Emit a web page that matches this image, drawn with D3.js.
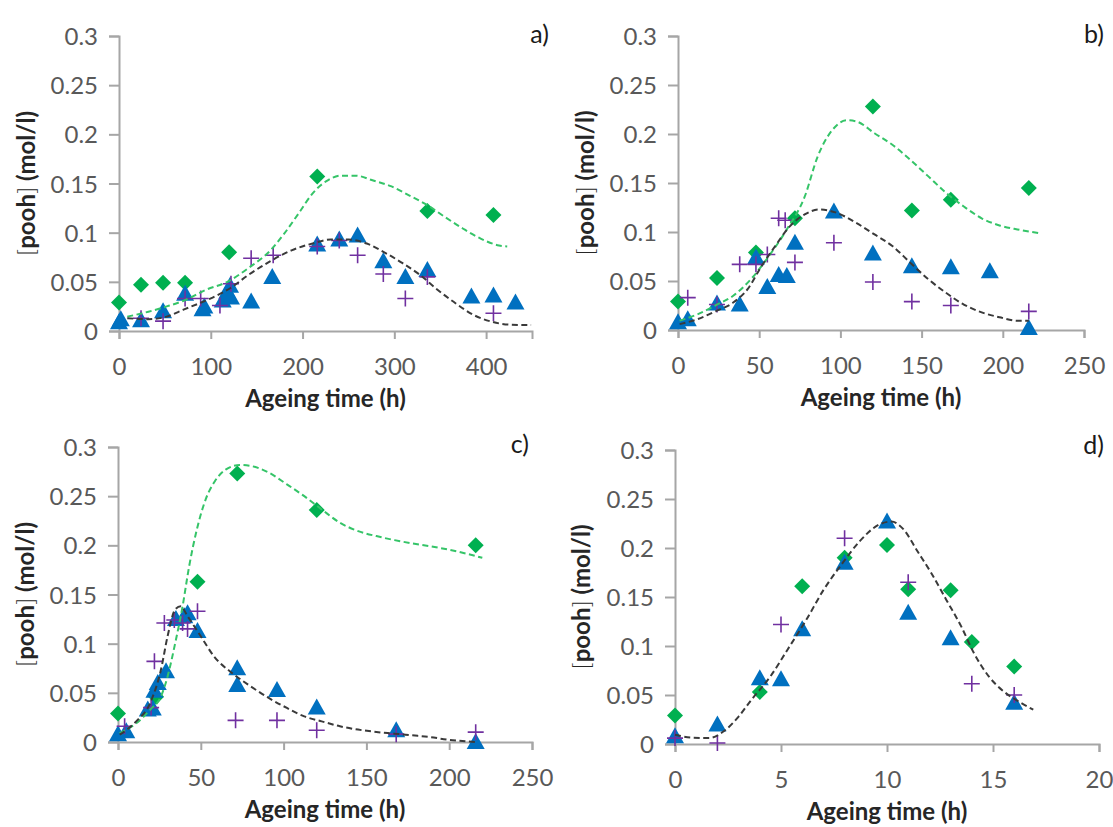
<!DOCTYPE html>
<html>
<head>
<meta charset="utf-8">
<script src="https://cdnjs.cloudflare.com/ajax/libs/d3/7.8.5/d3.min.js"></script>
<style>
  html, body { margin: 0; padding: 0; background: #ffffff; }
  svg { display: block; }
</style>
</head>
<body>
<svg id="chart" width="1113" height="827"></svg>
<script>
// ---------------- DATA ----------------
const yTicks = [0, 0.05, 0.1, 0.15, 0.2, 0.25, 0.3];
const yTickLabels = ["0", "0.05", "0.1", "0.15", "0.2", "0.25", "0.3"];
const xTicksA = [0, 100, 200, 300, 400];
const xTicksB = [0, 50, 100, 150, 200, 250];
const xTicksC = [0, 50, 100, 150, 200, 250];
const xTicksD = [0, 5, 10, 15, 20];
const panelLabels = ["a)", "b)", "c)", "d)"];
const xTitle = "Ageing time (h)";

// Panel a
const aDiamonds = [[0,0.029],[24,0.047],[48,0.049],[72,0.049],[120,0.08],[216,0.157],[336,0.122],[408,0.118]];
const aTriangles = [[0,0.009],[2,0.012],[24,0.011],[48,0.02],[72,0.038],[91,0.022],[93,0.025],[113,0.031],[118,0.04],[121,0.046],[122,0.034],[144,0.03],[167,0.055],[216,0.088],[240,0.093],[260,0.097],[288,0.071],[312,0.055],[336,0.062],[384,0.035],[408,0.036],[432,0.029]];
const aPlus = [[24,0.013],[48,0.01],[72,0.033],[89,0.033],[110,0.026],[122,0.048],[144,0.074],[168,0.077],[216,0.086],[240,0.092],[260,0.077],[288,0.058],[312,0.033],[336,0.055],[408,0.018]];
const aFitBlack = [[9,0.013],[32,0.012],[52,0.0146],[71,0.022],[87,0.028],[102,0.034],[122,0.044],[141,0.057],[165,0.071],[188,0.082],[211,0.089],[231,0.093],[250,0.093],[270,0.089],[289,0.08],[309,0.069],[328,0.057],[347,0.042],[367,0.028],[386,0.0165],[406,0.0095],[425,0.0065],[449,0.006]];
const aFitGreen = [[9,0.0146],[32,0.0196],[52,0.025],[71,0.031],[95,0.042],[118,0.05],[141,0.064],[165,0.082],[180,0.099],[196,0.12],[211,0.14],[227,0.153],[242,0.158],[258,0.158],[277,0.153],[297,0.147],[316,0.138],[336,0.128],[355,0.116],[375,0.104],[394,0.094],[414,0.087],[423,0.086]];

// Panel b
const bDiamonds = [[0,0.029],[24,0.053],[48,0.079],[72,0.114],[120,0.228],[144,0.122],[168,0.133],[216,0.145]];
const bTriangles = [[0,0.008],[6,0.011],[24,0.027],[38,0.026],[48,0.074],[55,0.044],[62,0.056],[67,0.055],[72,0.089],[96,0.121],[120,0.078],[144,0.065],[168,0.064],[192,0.06],[216,0.002]];
const bPlus = [[6,0.033],[24,0.026],[38,0.067],[48,0.067],[55,0.077],[62,0.114],[66,0.112],[72,0.069],[96,0.089],[120,0.049],[144,0.029],[168,0.025],[216,0.019]];
const bFitBlack = [[1,0.006],[12,0.011],[23,0.019],[34,0.028],[43,0.042],[51,0.064],[60,0.086],[69,0.106],[78,0.118],[87,0.123],[97,0.12],[110,0.109],[121,0.0975],[132,0.0857],[143,0.0687],[154,0.052],[165,0.038],[176,0.026],[187,0.018],[198,0.013],[209,0.0095],[216,0.0095]];
const bFitGreen = [[1,0.0095],[12,0.016],[23,0.025],[34,0.035],[45,0.052],[56,0.0755],[67,0.1026],[78,0.136],[86,0.177],[95,0.204],[104,0.214],[110,0.2127],[121,0.2008],[132,0.189],[143,0.1737],[154,0.157],[165,0.14],[176,0.126],[187,0.114],[198,0.1067],[209,0.1026],[222,0.099]];

// Panel c
const cDiamonds = [[0,0.029],[23,0.046],[48,0.163],[72,0.273],[120,0.236],[216,0.2]];
const cTriangles = [[0,0.008],[5,0.011],[18,0.033],[21,0.034],[22,0.052],[24,0.06],[29,0.072],[35,0.125],[40,0.128],[42,0.131],[48,0.113],[72,0.075],[72,0.058],[96,0.053],[120,0.035],[168,0.012],[216,0.0]];
const cPlus = [[4,0.016],[20,0.035],[22,0.082],[28,0.121],[34,0.124],[39,0.121],[42,0.115],[48,0.133],[71,0.022],[96,0.022],[120,0.012],[168,0.008],[216,0.01]];
const cFitBlack = [[1,0.0075],[11,0.021],[19.5,0.04],[26,0.074],[30,0.108],[34.6,0.135],[37.9,0.138],[42,0.128],[50,0.1075],[58,0.087],[69,0.07],[80,0.0567],[91,0.0448],[102,0.0346],[112.5,0.026],[123,0.021],[134,0.016],[145,0.0126],[156,0.0102],[167,0.0085],[177.5,0.0068],[188,0.0051],[199,0.0024],[210,0.0007],[216,0]];
const cFitGreen = [[1,0.009],[11,0.019],[19.5,0.033],[26,0.0465],[30,0.067],[34.6,0.101],[39,0.138],[43,0.179],[47.6,0.216],[53,0.247],[58.4,0.265],[65,0.277],[73.6,0.2817],[80,0.2808],[91,0.274],[102,0.262],[112.5,0.25],[123,0.2365],[134,0.223],[145,0.2145],[156,0.2094],[167,0.2053],[177.5,0.202],[188,0.1992],[199,0.1958],[210,0.1917],[220,0.1873]];

// Panel d
const dDiamonds = [[0,0.029],[4,0.053],[6,0.161],[8,0.19],[10,0.203],[11,0.158],[13,0.157],[14,0.104],[16,0.079]];
const dTriangles = [[0,0.008],[2,0.02],[4,0.067],[5,0.066],[6,0.117],[8,0.185],[10,0.227],[11,0.134],[13,0.108],[16,0.042]];
const dPlus = [[0,0.006],[2,0.001],[5,0.122],[8,0.21],[11,0.165],[14,0.0615],[16,0.05]];
const dFitBlack = [[0,0.0095],[0.76,0.0065],[1.6,0.006],[2.3,0.013],[3,0.028],[3.6,0.045],[4.5,0.069],[5.3,0.096],[6.2,0.127],[7,0.157],[7.9,0.1845],[8.7,0.2066],[9.6,0.2236],[10.2,0.227],[10.8,0.2185],[11.4,0.198],[12.1,0.174],[12.8,0.147],[13.5,0.12],[14.1,0.0928],[14.8,0.069],[15.5,0.0537],[16.2,0.0435],[16.9,0.035]];
const dFitGreen = [];

// ---------------- STYLE / LAYOUT ----------------
const COLORS = { green: "#00B050", blue: "#0070C0", purple: "#7030A0", greenLine: "#35C468", blackLine: "#3a3a3a", axis: "#A6A6A6", tick: "#595959", title: "#262626" };
const FONT = "Lato, 'Open Sans', sans-serif";

const panels = [
  { label: panelLabels[0], xDom: [0,450], xTicks: xTicksA, px: [119,532], py: [331,36], lab: [549,43], ytx: 27,
    diamonds: aDiamonds, triangles: aTriangles, plus: aPlus, black: aFitBlack, green: aFitGreen },
  { label: panelLabels[1], xDom: [0,250], xTicks: xTicksB, px: [678,1084], py: [330,36], lab: [1104,43], ytx: 586,
    diamonds: bDiamonds, triangles: bTriangles, plus: bPlus, black: bFitBlack, green: bFitGreen },
  { label: panelLabels[2], xDom: [0,250], xTicks: xTicksC, px: [118,532], py: [742,447], lab: [529,453], ytx: 26,
    diamonds: cDiamonds, triangles: cTriangles, plus: cPlus, black: cFitBlack, green: cFitGreen },
  { label: panelLabels[3], xDom: [0,20], xTicks: xTicksD, px: [675,1099], py: [744,450], lab: [1104,454], ytx: 582,
    diamonds: dDiamonds, triangles: dTriangles, plus: dPlus, black: dFitBlack, green: dFitGreen }
];

const svg = d3.select("#chart");

panels.forEach(p => {
  const x = d3.scaleLinear().domain(p.xDom).range(p.px);
  const y = d3.scaleLinear().domain([0, 0.3]).range(p.py);
  const g = svg.append("g");

  // axes
  const yAxis = d3.axisLeft(y).tickValues(yTicks).tickFormat((d, i) => yTickLabels[i]).tickSize(10).tickPadding(11);
  const xAxis = d3.axisBottom(x).tickValues(p.xTicks).tickFormat(d3.format("d")).tickSize(8).tickPadding(19);

  const gy = g.append("g").attr("transform", `translate(${p.px[0]},0)`).call(yAxis);
  const gx = g.append("g").attr("transform", `translate(0,${p.py[0]})`).call(xAxis);
  [gx, gy].forEach(ax => {
    ax.select(".domain").attr("stroke", COLORS.axis).attr("stroke-width", 2);
    ax.selectAll(".tick line").attr("stroke", COLORS.axis).attr("stroke-width", 2);
    ax.selectAll(".tick text").attr("fill", COLORS.tick).style("font-family", FONT).style("font-size", "24px");
  });
  gy.selectAll(".tick text").attr("dy", "0.36em");

  // axis titles
  g.append("text")
    .attr("x", (p.px[0] + p.px[1]) / 2).attr("y", p.py[0] + 76)
    .attr("text-anchor", "middle").attr("fill", COLORS.title)
    .style("font-family", FONT).style("font-size", "24px").style("font-weight", "bold")
    .text(xTitle);

  const yt = g.append("text")
    .attr("transform", `translate(${p.ytx},${(p.py[0] + p.py[1]) / 2}) rotate(-90)`)
    .attr("text-anchor", "middle").attr("dy", "0.35em").attr("fill", COLORS.title)
    .style("font-family", FONT).style("font-size", "24px");
  yt.append("tspan").style("font-weight", "300").text("[");
  yt.append("tspan").style("font-weight", "bold").text("pooh");
  yt.append("tspan").style("font-weight", "300").text("]");
  yt.append("tspan").style("font-weight", "bold").text("  (mol/l)");

  // panel label
  g.append("text").attr("x", p.lab[0]).attr("y", p.lab[1]).attr("text-anchor", "end")
    .attr("fill", "#1a1a1a").style("font-family", FONT).style("font-size", "25px").text(p.label);

  // markers
  g.append("g").selectAll("path").data(p.diamonds).join("path")
    .attr("transform", d => `translate(${x(d[0])},${y(d[1])})`)
    .attr("d", "M0,-8L8,0L0,8L-8,0Z").attr("fill", COLORS.green);

  g.append("g").selectAll("path").data(p.triangles).join("path")
    .attr("transform", d => `translate(${x(d[0])},${y(d[1])})`)
    .attr("d", "M0,-9L9,7L-9,7Z").attr("fill", COLORS.blue);

  g.append("g").selectAll("path").data(p.plus).join("path")
    .attr("transform", d => `translate(${x(d[0])},${y(d[1])})`)
    .attr("d", "M-8,0H8M0,-8V8").attr("stroke", COLORS.purple).attr("stroke-width", 1.6).attr("fill", "none");

  // fitted curves
  const line = d3.line().x(d => x(d[0])).y(d => y(d[1])).curve(d3.curveMonotoneX);
  if (p.green.length) {
    g.append("path").datum(p.green).attr("d", line).attr("fill", "none")
      .attr("stroke", COLORS.greenLine).attr("stroke-width", 2).attr("stroke-dasharray", "6,3.5");
  }
  if (p.black.length) {
    g.append("path").datum(p.black).attr("d", line).attr("fill", "none")
      .attr("stroke", COLORS.blackLine).attr("stroke-width", 2).attr("stroke-dasharray", "6,3.5");
  }
});
</script>
</body>
</html>
